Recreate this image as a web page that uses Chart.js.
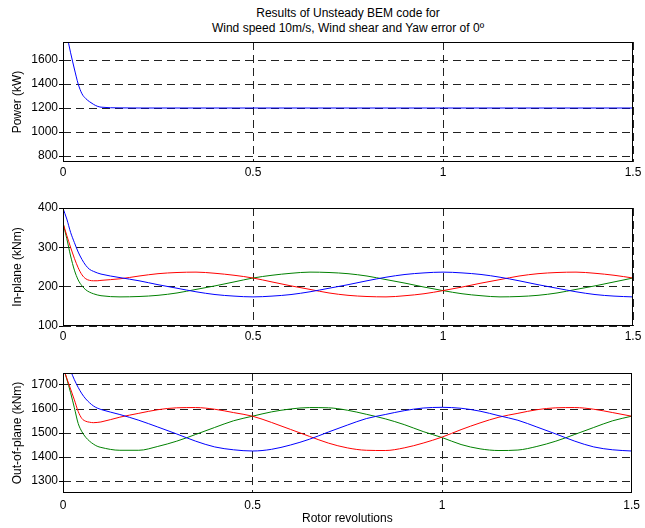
<!DOCTYPE html>
<html><head><meta charset="utf-8">
<script src="https://cdn.jsdelivr.net/npm/chart.js@4/dist/chart.umd.min.js"></script>
<style>
html,body{margin:0;padding:0;background:#fff;width:645px;height:528px;overflow:hidden;font-family:'Liberation Sans',Arial,sans-serif;}
.box{position:absolute;left:0;width:645px;}
#title{position:absolute;left:63px;width:570px;top:6px;text-align:center;font-size:12px;line-height:15px;color:#000;}
</style></head><body>
<div id="title">Results of Unsteady BEM code for<br>Wind speed 10m/s, Wind shear and Yaw error of 0º</div>
<div class="box" style="top:30px;height:152px"><canvas id="c1" width="645" height="152"></canvas></div>
<div class="box" style="top:196px;height:150px"><canvas id="c2" width="645" height="150"></canvas></div>
<div class="box" style="top:361px;height:167px"><canvas id="c3" width="645" height="167"></canvas></div>
<script>
// ---- data (rotor revolutions on x) ----
const revs = [0,0.01,0.02,0.03,0.04,0.05,0.06,0.07,0.08,0.09,0.10,
  0.15,0.20,0.25,0.30,0.35,0.40,0.45,0.50,0.55,0.60,0.65,0.70,0.75,0.80,0.85,0.90,0.95,1.00,
  1.05,1.10,1.15,1.20,1.25,1.30,1.35,1.40,1.45,1.50];
const xTicks = [0,0.5,1,1.5];

const power = [1950,1810,1660,1525,1400,1318,1278,1252,1231,1215,1207,
  1201,1200,1200,1200,1200,1200,1200,1200,1200,1200,1200,1200,1200,1200,1200,1200,1200,1200,
  1200,1200,1200,1200,1200,1200,1200,1200,1200,1200];
const powerTicks = [800,1000,1200,1400,1600];

const inPlaneBlue = [399,372,338,312,288,269,254,244,239,235,232,
  223,215,205,196,187,180,176,174,176,180,187,196,205,215,224,231,235,237,
  235,231,224,215,205,196,187,180,176,174];
const inPlaneRed = [362,330,300,272,248,230,220,216,215,215,216,
  220,227,233,236,237,234,229,222,212,202,193,184,178,175,174,177,182,190,
  199,209,218,227,233,236,237,234,229,222];
const inPlaneGreen = [362,322,278,242,217,202,192,186,182,179,177,
  174,175,178,184,193,202,212,222,229,234,237,236,233,227,218,209,199,190,
  182,177,174,175,178,184,193,202,212,222];
const inPlaneTicks = [100,200,300,400];

const outBlue = [1850,1800,1760,1722,1690,1663,1642,1626,1613,1604,1598,
  1577,1553,1525,1496,1466,1442,1430,1425,1432,1450,1474,1504,1533,1560,1577,1593,1604,1607,
  1603,1591,1572,1553,1525,1496,1466,1442,1430,1425];
const outRed = [1775,1728,1683,1638,1590,1560,1549,1545,1543,1544,1546,
  1566,1582,1597,1605,1606,1599,1585,1570,1544,1515,1486,1458,1438,1428,1427,1438,1458,1483,
  1514,1542,1566,1582,1597,1605,1606,1599,1585,1570];
const outGreen = [1775,1725,1668,1605,1540,1505,1482,1466,1454,1445,1440,
  1428,1428,1444,1466,1494,1523,1551,1570,1588,1600,1606,1605,1595,1578,1559,1535,1506,1481,
  1452,1434,1427,1429,1444,1466,1494,1523,1551,1570];
const outTicks = [1300,1400,1500,1600,1700];

// ---- rendering ----
const FONT = "'Liberation Sans', Arial, sans-serif";
const pts = arr => revs.map((x,i)=>({x:x, y:arr[i]}));
const ds = (arr,color) => ({data:pts(arr), borderColor:color, backgroundColor:color, borderWidth:1, pointRadius:0, fill:false, cubicInterpolationMode:'monotone'});

const frame = {id:'frame', afterDraw(chart){
  const {ctx, chartArea:a} = chart;
  ctx.save(); ctx.strokeStyle='#000'; ctx.lineWidth=1; ctx.setLineDash([]);
  ctx.strokeRect(Math.round(a.left)+0.5, Math.round(a.top)+0.5, Math.round(a.right-a.left)-1, Math.round(a.bottom-a.top)-1);
  ctx.restore();
}};

function panel(id, datasets, yMin, yMax, yTicks, yTitle, xTitle, xHeight, xPad){
  return new Chart(document.getElementById(id), {
    type:'line',
    data:{datasets},
    options:{
      responsive:false, animation:false, events:[],
      layout:{padding:{top:12,right:12,left:0,bottom:0}},
      plugins:{legend:{display:false}, tooltip:{enabled:false}, title:{display:false}},
      scales:{
        x:{type:'linear', min:0, max:1.5,
          afterBuildTicks:s=>{s.ticks = xTicks.map(v=>({value:v}));},
          afterFit:s=>{s.height = xHeight;},
          grid:{color:'#222', lineWidth:1, drawTicks:false},
          border:{display:false, dash:[8,5]},
          ticks:{padding:xPad, color:'#000', font:{family:FONT,size:12}, maxRotation:0, autoSkip:false, callback:v=>String(v)},
          title: xTitle ? {display:true, text:xTitle, color:'#000', font:{family:FONT,size:12}, padding:{top:0,bottom:2}} : {display:false}
        },
        y:{type:'linear', min:yMin, max:yMax,
          afterBuildTicks:s=>{s.ticks = yTicks.map(v=>({value:v}));},
          afterFit:s=>{s.width = 63;},
          grid:{color:'#222', lineWidth:1, drawTicks:true, tickLength:4, tickColor:'#000'},
          border:{display:false, dash:[8,5]},
          ticks:{padding:1, color:'#000', font:{family:FONT,size:12}, autoSkip:false, callback:v=>String(v)},
          title:{display:true, text:yTitle, color:'#000', font:{family:FONT,size:12}, padding:{top:10,bottom:0}}
        }
      }
    },
    plugins:[frame]
  });
}

panel('c1', [ds(power,'#0000ff')], 750, 1750, powerTicks, 'Power (kW)', null, 20, 3);
panel('c2', [ds(inPlaneBlue,'#0000ff'), ds(inPlaneRed,'#ff0000'), ds(inPlaneGreen,'#008000')], 100, 400, inPlaneTicks, 'In-plane (kNm)', null, 20, 3);
panel('c3', [ds(outBlue,'#0000ff'), ds(outRed,'#ff0000'), ds(outGreen,'#008000')], 1250, 1750, outTicks, 'Out-of-plane (kNm)', 'Rotor revolutions', 35, 5);
</script>
</body></html>
